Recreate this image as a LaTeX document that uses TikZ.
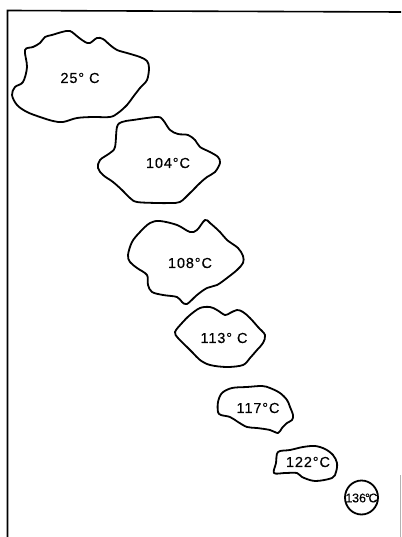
\documentclass[tikz,border=0pt]{standalone}
\usepackage{fontspec}
\setmainfont{Liberation Sans}
\newfontfamily\labelfont[LetterSpace=6,FakeBold=0.3]{Liberation Sans}
\newfontfamily\smalllabelfont[FakeBold=0.4]{Liberation Sans}
\begin{document}
\begin{tikzpicture}[x=1pt,y=-1pt,
  outline/.style={line width=1.8pt, line join=round},
  blob/.style={outline, smooth cycle, tension=0.55},
  temp/.style={font=\labelfont\fontsize{14.5}{16}\selectfont, inner sep=0pt},
  frame/.style={line width=1.6pt}]
\useasboundingbox (0,0) rectangle (401,537);

% frame edges
\draw[frame] (7.5,537) -- (7.5,10.5) -- (401,12);
\draw[gray!60, line width=0.8pt] (400,475) -- (400,537);

% 25 C
\draw[outline] plot[blob] coordinates {
 (12,95) (15,87) (23,82) (27,67) (25,50) (33,47) (40,43) (45,37) (52,35)
 (62,32) (70,31) (78,37) (85,42) (90,43) (97,38) (103,39) (110,45) (117,50)
 (127,53) (140,57) (147,61) (149,68) (147,80) (140,88) (133,97) (127,105)
 (118,113) (110,117) (93,117) (77,118) (63,122) (53,121) (40,117) (27,112)
 (17,105)};
\node[temp] (t25) at (80,78) {25° C};

% 104 C
\draw[outline] plot[blob] coordinates {
 (122,122) (133,120) (157,117) (163,120) (170,130) (178,134) (188,135)
 (195,140) (200,147) (210,152) (218,157) (220,163) (215,172) (207,177)
 (200,183) (190,193) (180,202) (170,203) (157,203) (137,202) (130,198)
 (122,190) (113,182) (103,175) (98,168) (100,160) (110,153) (115,147)
 (117,127)};
\node[temp] (t104) at (168,163) {104°C};

% 108 C
\draw[outline] plot[blob] coordinates {
 (128,255) (132,242) (140,232) (150,223) (160,221) (177,225) (190,232)
 (197,230) (205,220) (210,223) (220,232) (227,240) (238,248) (243,256)
 (243,263) (237,270) (227,278) (217,285) (207,288) (197,295) (187,304)
 (182,302) (177,297) (163,295) (152,292) (148,285) (147,275) (137,268)
 (130,262)};
\node[temp] (t108) at (190,263) {108°C};

% 113 C
\draw[outline] plot[blob] coordinates {
 (175,332) (182,323) (190,315) (200,308) (210,307) (217,310) (225,315)
 (230,313) (237,310) (243,312) (250,318) (258,327) (265,335) (263,343)
 (257,350) (250,358) (243,365) (227,367) (210,365) (200,360) (193,353)
 (187,347) (178,338)};
\node[temp] (t113) at (224,338) {113° C};

% 117 C
\draw[outline] plot[blob] coordinates {
 (218,412) (218,402) (222,393) (232,388) (247,387) (262,386) (270,388)
 (280,393) (287,400) (290,407) (293,415) (292,420) (287,423) (282,428)
 (278,433) (270,430) (257,428) (247,427) (238,422) (230,417) (221,415)};
\node[temp] (t117) at (258,408) {117°C};

% 122 C
\draw[outline] plot[blob] coordinates {
 (274,473) (276,463) (278,452) (290,450) (303,447) (315,446) (325,449)
 (333,455) (337,463) (336,472) (332,478) (315,481) (302,477) (297,473)
 (285,473)};
\node[temp] (t122) at (308,462) {122°C};

% 136 C
\draw[outline] (361.5,497.5) ellipse [x radius=16.5pt, y radius=17pt];
\node[inner sep=0pt, font=\smalllabelfont\fontsize{12.5}{14}\selectfont] (t136) at (361.5,498)
  {1\kern-0.3pt36\kern-1pt°\kern-1.5ptC};
\end{tikzpicture}
\end{document}
